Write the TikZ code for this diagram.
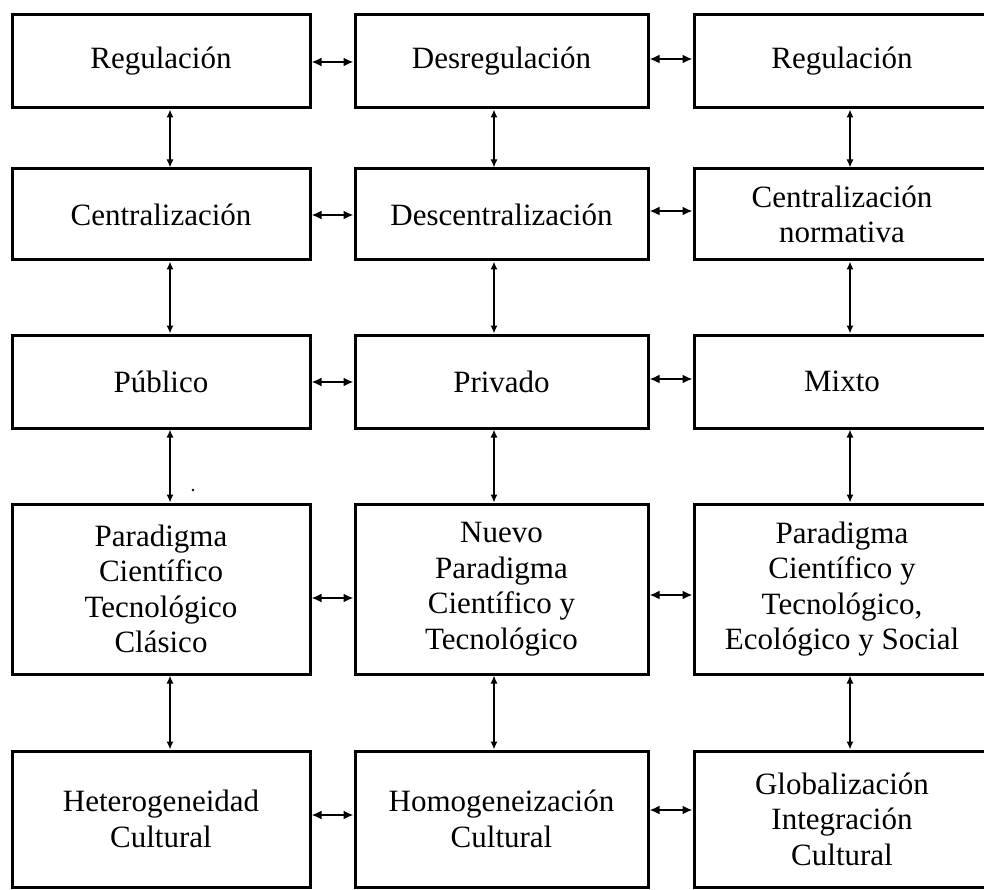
\documentclass[tikz,border=0pt]{standalone}
\usepackage{fontspec}
\setmainfont{Liberation Serif}
\usetikzlibrary{arrows.meta}
\begin{document}
\begin{tikzpicture}[x=1pt,y=-1pt,
  box/.style={draw, line width=3pt, align=center, inner sep=0pt,
    font=\fontsize{31}{35.5}\selectfont},
  colA/.style={minimum width=298pt},
  colB/.style={minimum width=293pt},
  colC/.style={minimum width=296pt},
  rowA/.style={minimum height=93pt},
  rowB/.style={minimum height=91pt},
  rowC/.style={minimum height=93pt},
  rowD/.style={minimum height=170pt},
  rowE/.style={minimum height=136pt},
  harr/.style={{Latex[length=10pt,width=9pt]}-{Latex[length=10pt,width=9pt]}, line width=2.4pt},
  varr/.style={{Latex[length=8pt,width=7pt]}-{Latex[length=8pt,width=7pt]}, line width=1.4pt}]
\useasboundingbox (0,0) rectangle (984,890);
% column x-centers: 161, 501.5, 842 ; row y-centers: 61.5, 214.5, 381.5, 589, 819
\node[box,colA,rowA] (A1) at (161,61.5) {Regulación};
\node[box,colB,rowA] (B1) at (501.5,61.5) {Desregulación};
\node[box,colC,rowA] (C1) at (842,61.5) {Regulación};
\node[box,colA,rowB] (A2) at (161,214.5) {Centralización};
\node[box,colB,rowB] (B2) at (501.5,214.5) {Descentralización};
\node[box,colC,rowB] (C2) at (842,214.5) {Centralización\\normativa};
\node[box,colA,rowC] (A3) at (161,381.5) {Público};
\node[box,colB,rowC] (B3) at (501.5,381.5) {Privado};
\node[box,colC,rowC] (C3) at (842,381.5) {Mixto};
\node[box,colA,rowD] (A4) at (161,589) {Paradigma\\Científico\\Tecnológico\\Clásico};
\node[box,colB,rowD] (B4) at (501.5,589) {Nuevo\\Paradigma\\Científico y\\Tecnológico};
\node[box,colC,rowD] (C4) at (842,589) {Paradigma\\Científico y\\Tecnológico,\\Ecológico y Social};
\node[box,colA,rowE] (A5) at (161,819) {Heterogeneidad\\Cultural};
\node[box,colB,rowE] (B5) at (501.5,819) {Homogeneización\\Cultural};
\node[box,colC,rowE] (C5) at (842,819) {Globalización\\Integración\\Cultural};
% vertical arrow x positions
\coordinate (xa) at (170,0);
\coordinate (xb) at (494,0);
\coordinate (xc) at (850,0);
% horizontal arrow y positions
\coordinate (h1l) at (0,62);  \coordinate (h1r) at (0,59);
\coordinate (h2l) at (0,215); \coordinate (h2r) at (0,211);
\coordinate (h3l) at (0,382); \coordinate (h3r) at (0,379);
\coordinate (h4l) at (0,598); \coordinate (h4r) at (0,595);
\coordinate (h5l) at (0,815); \coordinate (h5r) at (0,810);
% horizontal arrows
\draw[harr] (A1.east |- h1l) -- (B1.west |- h1l);
\draw[harr] (B1.east |- h1r) -- (C1.west |- h1r);
\draw[harr] (A2.east |- h2l) -- (B2.west |- h2l);
\draw[harr] (B2.east |- h2r) -- (C2.west |- h2r);
\draw[harr] (A3.east |- h3l) -- (B3.west |- h3l);
\draw[harr] (B3.east |- h3r) -- (C3.west |- h3r);
\draw[harr] (A4.east |- h4l) -- (B4.west |- h4l);
\draw[harr] (B4.east |- h4r) -- (C4.west |- h4r);
\draw[harr] (A5.east |- h5l) -- (B5.west |- h5l);
\draw[harr] (B5.east |- h5r) -- (C5.west |- h5r);
% vertical arrows
\draw[varr] (A1.south -| xa) -- (A2.north -| xa);
\draw[varr] (A2.south -| xa) -- (A3.north -| xa);
\draw[varr] (A3.south -| xa) -- (A4.north -| xa);
\draw[varr] (A4.south -| xa) -- (A5.north -| xa);
\draw[varr] (B1.south -| xb) -- (B2.north -| xb);
\draw[varr] (B2.south -| xb) -- (B3.north -| xb);
\draw[varr] (B3.south -| xb) -- (B4.north -| xb);
\draw[varr] (B4.south -| xb) -- (B5.north -| xb);
\draw[varr] (C1.south -| xc) -- (C2.north -| xc);
\draw[varr] (C2.south -| xc) -- (C3.north -| xc);
\draw[varr] (C3.south -| xc) -- (C4.north -| xc);
\draw[varr] (C4.south -| xc) -- (C5.north -| xc);
% scan speck
\fill (193,490) circle (1.4pt);
\end{tikzpicture}
\end{document}
